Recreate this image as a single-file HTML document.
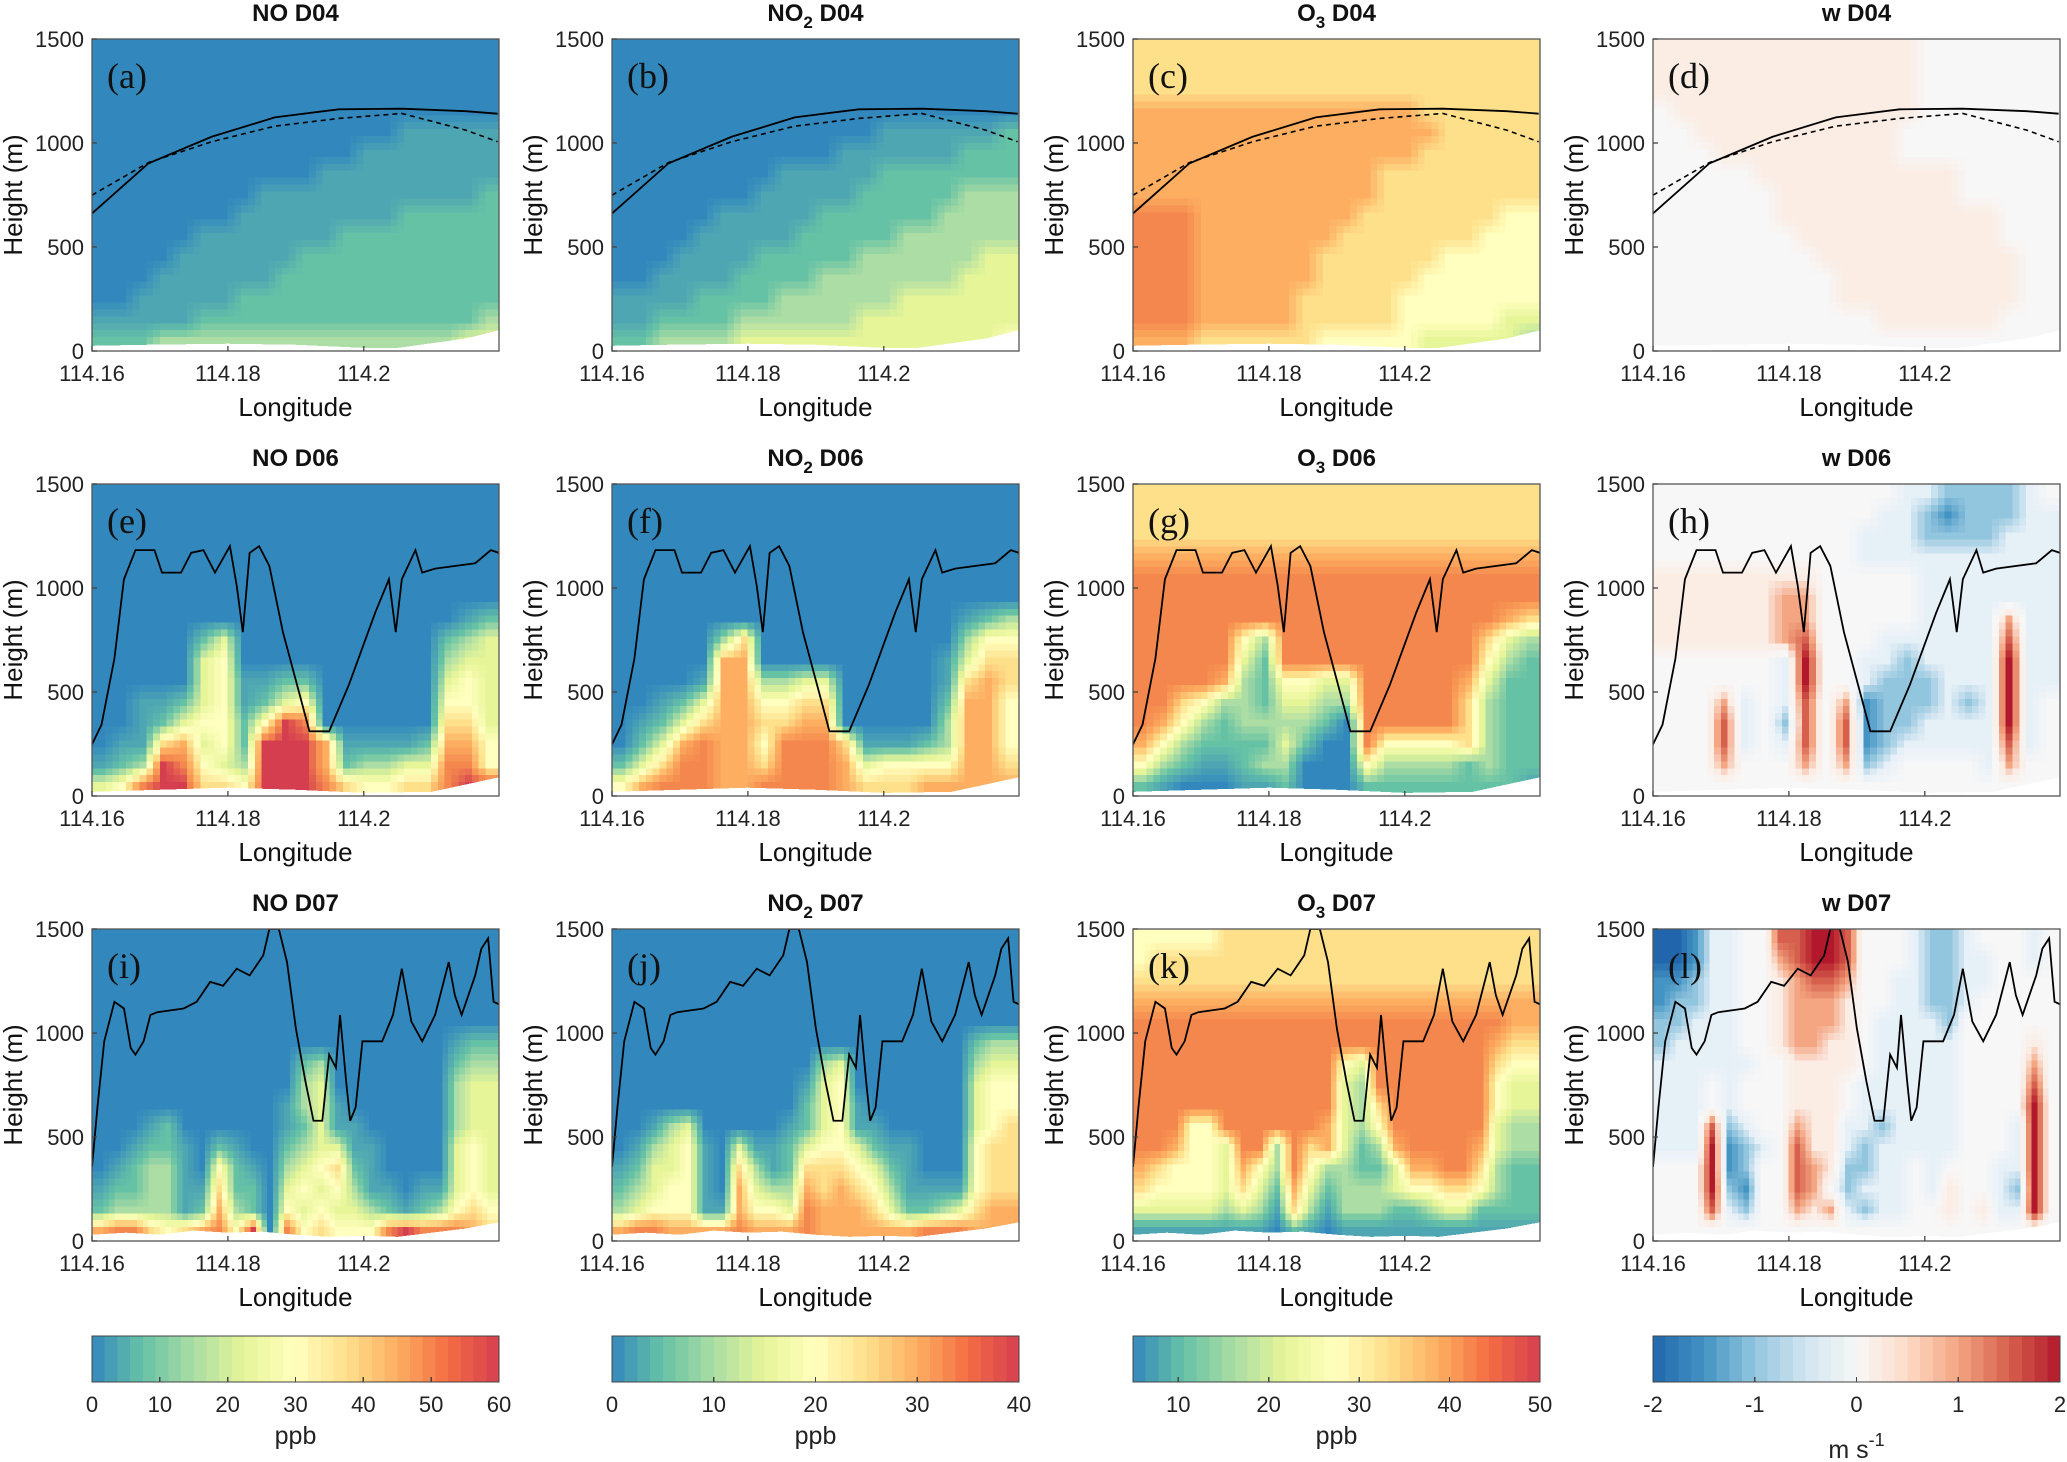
<!DOCTYPE html>
<html><head><meta charset="utf-8"><title>Vertical cross sections</title>
<style>
html,body{margin:0;padding:0;background:#fff;}
svg{display:block;font-family:"Liberation Sans",Arial,sans-serif;}
.tk{font-size:22px;fill:#222;}
.lab{font-size:26px;fill:#111;}
.ttl{font-size:24px;font-weight:bold;fill:#111;}
.let{font-family:"Liberation Serif",serif;font-size:36px;fill:#111;}
</style></head>
<body>
<svg id="fig" width="2067" height="1462" viewBox="0 0 2067 1462" xmlns="http://www.w3.org/2000/svg"></svg>
<script>
// ---------- data ----------
const lonTicks = [114.16, 114.18, 114.2];
const lonTickLabels = ["114.16", "114.18", "114.2"];
const heightTicks = [0, 500, 1000, 1500];
const pblD04Lon = [114.16,114.1683,114.1776,114.1869,114.1963,114.2056,114.215,114.2197];
const pblD04Solid = [661,902,1030,1123,1162,1165,1153,1141];
const pblD04Dash = [749,906,1006,1081,1118,1142,1062,1006];
const pblD06Lon = [114.160,114.1614,114.1633,114.1647,114.1664,114.1692,114.1703,114.1731,114.1746,114.1764,114.1781,114.1803,114.1813,114.1822,114.1832,114.1846,114.1861,114.1881,114.1906,114.1920,114.1949,114.1978,114.2017,114.2037,114.2047,114.2056,114.2076,114.2086,114.2105,114.2164,114.2187,114.2199];
const pblD06H = [248,343,661,1042,1182,1182,1074,1074,1169,1182,1074,1201,1011,788,1169,1201,1106,788,483,311,311,534,883,1042,788,1042,1182,1074,1093,1119,1182,1169];
const pblD07Lon = [114.1600,114.1608,114.1618,114.1633,114.1647,114.1657,114.1664,114.1676,114.1686,114.1696,114.1735,114.1754,114.1774,114.1793,114.1813,114.1832,114.1852,114.1861,114.1875,114.1887,114.1900,114.1914,114.1926,114.1939,114.1949,114.1959,114.1965,114.1974,114.1980,114.1988,114.1998,114.2027,114.2043,114.2056,114.2070,114.2086,114.2105,114.2125,114.2134,114.2144,114.2164,114.2173,114.2183,114.2191,114.2199];
const pblD07H = [356,642,960,1150,1118,928,896,960,1087,1100,1118,1150,1246,1227,1309,1277,1373,1500,1500,1341,1023,769,578,578,896,833,1087,769,578,642,960,960,1087,1309,1055,960,1087,1341,1182,1087,1277,1405,1455,1150,1138];
const terrD04Lon = [114.16,114.168,114.18,114.19,114.2,114.205,114.215,114.2199];
const terrD04H = [25,30,35,30,15,15,60,100];
const terrD06Lon = [114.16,114.17,114.18,114.19,114.2,114.21,114.2199];
const terrD06H = [20,30,40,30,15,20,90];
const terrD07Lon = [114.16,114.165,114.17,114.175,114.18,114.185,114.19,114.195,114.2,114.205,114.21,114.215,114.2199];
const terrD07H = [30,40,30,50,40,45,30,20,25,20,40,60,90];

// grids: rows top (1400-1500 m) to bottom (0-100 m); digit = colour level
const gridNO04 = ["00000000000000000000","00000000000000000000","00000000000000000000","00000000000000000000","00000000000000011111","00000000000001111111","00000000000111111111","00000000111111111112","00000001111111122222","00000111111122222222","00001111112222222222","00011111122222222222","00111112222222222222","11111222222222222223","22233333333333333344"];
const gridNO204 = ["00000000000000000000","00000000000000000000","00000000000000000000","00000000000000000000","00000000000001111112","00000000000111111222","00000000111112222222","00000001111122222333","00000111112222223333","00001111122222333333","00011112222233333344","00111122223333333444","11112222333333444444","11222233333344444444","22333344444444444445"];
const gridO304 = ["66666666666666666666","66666666666666666666","66666666666666666666","77777777777777666666","77777777777777766666","77777777777777666666","77777777777766666666","77777777777766666666","88877777777666666655","88877777776666666555","88877777766666655555","88877777766666555555","88877777666665555555","88877777666665555544","77766666655555444443"];
const gridW04 = ["55555555555554444444","55555555555554444444","55555555555554444444","45555555555554444444","44555555555544444444","44455555555544444444","44444555555555544444","44444455555555544444","44444455555555555444","44444445555555555444","44444444555555555544","44444444455555555544","44444444455555555544","44444444444555555444","44444444444444444444"];
const gridNO06 = ["00000000000000000000","00000000000000000000","00000000000000000000","00000000000000000000","00000000000000000000","00000000000000000000","00000000000000000012","00000240000000000234","00000450000000000344","00000451122000000454","00112451245000000554","00124552598000000664","01167452999711112775","12398543999723344885","45899665999865566899"];
const gridNO206 = ["00000000000000000000","00000000000000000000","00000000000000000000","00000000000000000000","00000000000000000000","00000000000000000000","00000000000000000123","00000360000000000355","00000770000000001466","00001773344000001676","00124775566000002775","01246776677000003775","02478775888611123775","24688776888745555776","57888778888766677777"];
const gridO306 = ["66666666666666666666","66666666666666666666","66666666666666666666","77777777777777777777","88888888888888888888","88888888888888888888","88888888888888888876","88888538888888888643","88888428888888888532","88887325544888887422","88653324433888886322","87532333320888886322","75322224200855556322","53211233000533332322","21000112000222222221"];
const gridW06 = ["44444444444433222234","44444444444332122233","44444444443332222333","44444444443333333333","55555555444443333333","55555566444443333333","55555566444443333633","55555567444333333733","44444438443323333833","44444438443222333833","44463437461222323834","44473427471223333834","44473437471233333734","44464446462344443644","44444444444444444444"];
const gridNO07 = ["000000000000000000000000","000000000000000000000000","000000000000000000000000","000000000000000000000000","000000000000000000000000","000000000000000000000122","000000000000230000000233","000000000000340000000344","000000000001341000000344","000120000001241100000344","001221021002344110000454","012331052103456210000454","122331162204545311011454","233331273205454432123565","788656785908565558988876"];
const gridNO207 = ["000000000000000000000000","000000000000000000000000","000000000000000000000000","000000000000000000000000","000000000000000000000000","000000000000000000000233","000000000000340000000344","000000000001450000000455","000000000002451000000455","001340000012451100000456","013451041124554211000566","124451063126665421000566","234551074337676531111566","345551175548777642234677","788777787778777777888777"];
const gridO307 = ["555556666666666666666666","566666666666666666666666","666666666666666666666666","777777777777777777777777","888888888888888888888877","888888888888888888888766","888888888888548888888655","888888888888438888888544","888888888888436888888544","888558888887435888888433","887554883867423788887433","765554753853322477886322","655554642742333455665322","444443431631333223442222","111111110210111111111111"];
const gridW07 = ["001334477887444322344434","001334467887444322334434","112334456776443322334444","122334456665443322344444","223334456665433332444444","233334456655433333444454","333333445555433333444464","333434445554333333444474","333434445554333333444484","333723446553323333444384","333812347553233333444384","444812447652233434443384","444821447642333435443284","444732446563233445453384","444444444444444444444444"];

const cbNOTicks = [0,10,20,30,40,50,60];
const cbNO2Ticks = [0,10,20,30,40];
const cbO3Ticks = [10,20,30,40,50];
const cbWTicks = [-2,-1,0,1,2];

// ---------- rendering ----------
const NS = "http://www.w3.org/2000/svg";
const svg = document.getElementById('fig');
const SPEC = ["#3288bd","#4ea6b3","#66c2a5","#abdda4","#e6f598","#ffffbf","#fee08b","#fdae61","#f4874d","#d53e4f"];
const SPECCB = ["#3288bd","#66c2a5","#abdda4","#e6f598","#ffffbf","#fee08b","#fdae61","#f46d43","#d53e4f"];
const RDBU = ["#2166ac","#4393c3","#92c5de","#e6f0f7","#f7f7f7","#fbece4","#f4a582","#d6604d","#b2182b"];
const RDBUCB = ["#2166ac","#4393c3","#92c5de","#d1e5f0","#f7f7f7","#fddbc7","#f4a582","#d6604d","#b2182b"];
function hex(c){return [1,3,5].map(i=>parseInt(c.substr(i,2),16));}
function interp(pal,f){f=Math.max(0,Math.min(1,f));const p=f*(pal.length-1);const i=Math.min(Math.floor(p),pal.length-2);const t=p-i;const a=hex(pal[i]),b=hex(pal[i+1]);return 'rgb('+a.map((v,k)=>Math.round(v+(b[k]-v)*t)).join(',')+')';}
function el(tag,attrs,parent){const e=document.createElementNS(NS,tag);for(const k in attrs)e.setAttribute(k,attrs[k]);(parent||svg).appendChild(e);return e;}

const COLX=[92,612,1133,1653], ROWY=[39,484,929], PW=407, PH=312;
const LON0=114.16, LON1=114.2199, HMAX=1500, SUB=3;

const panels=[
 {r:0,c:0,grid:gridNO04,pal:SPEC,sp:"NO",dom:"D04",letter:"(a)",pblLon:pblD04Lon,pbl:pblD04Solid,dash:pblD04Dash,tl:terrD04Lon,th:terrD04H},
 {r:0,c:1,grid:gridNO204,pal:SPEC,sp:"NO2",dom:"D04",letter:"(b)",pblLon:pblD04Lon,pbl:pblD04Solid,dash:pblD04Dash,tl:terrD04Lon,th:terrD04H},
 {r:0,c:2,grid:gridO304,pal:SPEC,sp:"O3",dom:"D04",letter:"(c)",pblLon:pblD04Lon,pbl:pblD04Solid,dash:pblD04Dash,tl:terrD04Lon,th:terrD04H},
 {r:0,c:3,grid:gridW04,pal:RDBU,sp:"w",dom:"D04",letter:"(d)",pblLon:pblD04Lon,pbl:pblD04Solid,dash:pblD04Dash,tl:terrD04Lon,th:terrD04H},
 {r:1,c:0,grid:gridNO06,pal:SPEC,sp:"NO",dom:"D06",letter:"(e)",pblLon:pblD06Lon,pbl:pblD06H,tl:terrD06Lon,th:terrD06H},
 {r:1,c:1,grid:gridNO206,pal:SPEC,sp:"NO2",dom:"D06",letter:"(f)",pblLon:pblD06Lon,pbl:pblD06H,tl:terrD06Lon,th:terrD06H},
 {r:1,c:2,grid:gridO306,pal:SPEC,sp:"O3",dom:"D06",letter:"(g)",pblLon:pblD06Lon,pbl:pblD06H,tl:terrD06Lon,th:terrD06H},
 {r:1,c:3,grid:gridW06,pal:RDBU,sp:"w",dom:"D06",letter:"(h)",pblLon:pblD06Lon,pbl:pblD06H,tl:terrD06Lon,th:terrD06H},
 {r:2,c:0,grid:gridNO07,pal:SPEC,sp:"NO",dom:"D07",letter:"(i)",pblLon:pblD07Lon,pbl:pblD07H,tl:terrD07Lon,th:terrD07H},
 {r:2,c:1,grid:gridNO207,pal:SPEC,sp:"NO2",dom:"D07",letter:"(j)",pblLon:pblD07Lon,pbl:pblD07H,tl:terrD07Lon,th:terrD07H},
 {r:2,c:2,grid:gridO307,pal:SPEC,sp:"O3",dom:"D07",letter:"(k)",pblLon:pblD07Lon,pbl:pblD07H,tl:terrD07Lon,th:terrD07H},
 {r:2,c:3,grid:gridW07,pal:RDBU,sp:"w",dom:"D07",letter:"(l)",pblLon:pblD07Lon,pbl:pblD07H,tl:terrD07Lon,th:terrD07H}
];

function sample(grid,u,v){
  const nr=grid.length,nc=grid[0].length;
  u=Math.max(0,Math.min(nc-1,u)); v=Math.max(0,Math.min(nr-1,v));
  const c0=Math.floor(u),r0=Math.floor(v),c1=Math.min(nc-1,c0+1),r1=Math.min(nr-1,r0+1);
  const tu=u-c0,tv=v-r0;
  const g=(r,c)=>parseInt(grid[r][c]);
  return (g(r0,c0)*(1-tu)+g(r0,c1)*tu)*(1-tv)+(g(r1,c0)*(1-tu)+g(r1,c1)*tu)*tv;
}

panels.forEach((p,idx)=>{
  const L=COLX[p.c], T=ROWY[p.r];
  const xs=lon=>L+(lon-LON0)/(LON1-LON0)*PW;
  const ys=h=>T+PH-h/HMAX*PH;
  const g=el('g',{});
  
  
  const cid='clip'+idx;
  const cp=el('clipPath',{id:cid},g); el('rect',{x:L,y:T,width:PW,height:PH},cp);
  const hm=el('g',{'clip-path':'url(#'+cid+')','shape-rendering':'crispEdges'},g);
  
  
  const nr=p.grid.length, nc=p.grid[0].length, dh=HMAX/nr, dl=(LON1-LON0)/nc;
  const maxLev=p.pal.length-1;
  for(let r=0;r<nr*SUB;r++){for(let c=0;c<nc*SUB;c++){
    const u=(c+0.5)/SUB-0.5, v=(r+0.5)/SUB-0.5;
    const val=sample(p.grid,u,v);
    const h1=HMAX-r*dh/SUB, h0=h1-dh/SUB, l0=LON0+c*dl/SUB;
    const x0=xs(l0), x1=xs(l0+dl/SUB), y0=ys(h1), y1=ys(h0);
    const rc=el('rect',{x:x0.toFixed(1),y:y0.toFixed(1),width:(x1-x0+0.7).toFixed(1),height:(y1-y0+0.7).toFixed(1),fill:interp(p.pal,val/maxLev)},hm);
    
    
  }}
  let d='M'+xs(p.tl[0])+','+ys(0);
  p.tl.forEach((lo,i)=>{d+=' L'+xs(lo)+','+ys(p.th[i]);});
  d+=' L'+xs(p.tl[p.tl.length-1])+','+ys(0)+' Z';
  const tr=el('path',{d:d,fill:'#fff'},hm);
  
  
  const pl=el('polyline',{points:p.pblLon.map((lo,i)=>xs(lo)+','+ys(p.pbl[i])).join(' '),fill:'none',stroke:'#000','stroke-width':1.8,'shape-rendering':'auto'},hm);
  
  
  if(p.dash){
    const dl2=el('polyline',{points:p.pblLon.map((lo,i)=>xs(lo)+','+ys(p.dash[i])).join(' '),fill:'none',stroke:'#000','stroke-width':1.6,'stroke-dasharray':'5,4','shape-rendering':'auto'},hm);
    
    
  }
  const bx=el('rect',{x:L,y:T,width:PW,height:PH,fill:'none',stroke:'#555','stroke-width':1.3},g);
  
  
  lonTicks.forEach((lo,i)=>{
    const x=xs(lo);
    el('line',{x1:x,y1:T+PH,x2:x,y2:T+PH-5,stroke:'#444','stroke-width':1.3},g);
    const t=el('text',{x:x,y:T+PH+30,'text-anchor':'middle',class:'tk'},g);
    t.textContent=lonTickLabels[i];
    
    
  });
  heightTicks.forEach(h=>{
    const y=ys(h);
    el('line',{x1:L,y1:y,x2:L+5,y2:y,stroke:'#444','stroke-width':1.3},g);
    const t=el('text',{x:L-8,y:y+8,'text-anchor':'end',class:'tk'},g);
    t.textContent=String(h);
    
    
  });
  const xl=el('text',{x:L+PW/2,y:T+PH+65,'text-anchor':'middle',class:'lab'},g);
  xl.textContent='Longitude';
  
  
  const yl=el('text',{x:0,y:0,'text-anchor':'middle',class:'lab',transform:'translate('+(L-70)+','+(T+PH/2)+') rotate(-90)'},g);
  yl.textContent='Height (m)';
  
  
  const tt=el('text',{x:L+PW/2,y:T-18,'text-anchor':'middle',class:'ttl'},g);
  
  
  if(p.sp==='NO2'||p.sp==='O3'){
    tt.appendChild(document.createTextNode(p.sp[0]+(p.sp==='NO2'?'O':'')));
    const sub=el('tspan',{style:'font-size:17px',dy:'7'},tt); sub.textContent=p.sp.slice(-1);
    const rest=el('tspan',{dy:'-7'},tt); rest.textContent=' '+p.dom;
  } else { tt.textContent=p.sp+' '+p.dom; }
  const lt=el('text',{x:L+15,y:T+49,class:'let'},g);
  lt.textContent=p.letter;
  
  
});

const cbs=[
 {c:0,pal:SPECCB,min:0,max:60,ticks:cbNOTicks,unit:'ppb',name:'no'},
 {c:1,pal:SPECCB,min:0,max:40,ticks:cbNO2Ticks,unit:'ppb',name:'no2'},
 {c:2,pal:SPECCB,min:5,max:50,ticks:cbO3Ticks,unit:'ppb',name:'o3'},
 {c:3,pal:RDBUCB,min:-2,max:2,ticks:cbWTicks,unit:'w',name:'w'}
];
const CBY=1336, CBH=46, NB=32;
cbs.forEach(cb=>{
  const L=COLX[cb.c];
  const g=el('g',{'shape-rendering':'crispEdges'});
  
  
  for(let i=0;i<NB;i++){
    el('rect',{x:L+i*PW/NB,y:CBY,width:PW/NB+0.6,height:CBH,fill:interp(cb.pal,(i+0.5)/NB)},g);
  }
  el('rect',{x:L,y:CBY,width:PW,height:CBH,fill:'none',stroke:'#444','stroke-width':1.3},g);
  cb.ticks.forEach(v=>{
    const x=L+(v-cb.min)/(cb.max-cb.min)*PW;
    el('line',{x1:x,y1:CBY+CBH,x2:x,y2:CBY+CBH-5,stroke:'#444','stroke-width':1.3},g);
    const t=el('text',{x:x,y:CBY+CBH+30,'text-anchor':'middle',class:'tk'},g);
    t.textContent=String(v);
    
    
  });
  const u=el('text',{x:L+PW/2,y:1444,'text-anchor':'middle',style:'font-size:25px;fill:#222'},g);
  
  
  if(cb.unit==='w'){u.setAttribute('y','1458');u.textContent='m s';const s=el('tspan',{dy:'-12',style:'font-size:18px'},u);s.textContent='-1';}
  else u.textContent=cb.unit;
});
</script>
</body></html>
